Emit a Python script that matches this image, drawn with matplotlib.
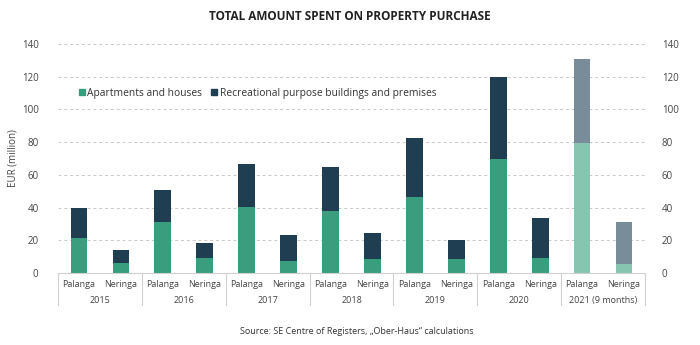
import matplotlib
matplotlib.use("Agg")
import matplotlib.pyplot as plt
from matplotlib.patches import Patch
from matplotlib.transforms import blended_transform_factory
import numpy as np

plt.rcParams["font.family"] = ["Open Sans", "DejaVu Sans"]

years = ["2015", "2016", "2017", "2018", "2019", "2020", "2021 (9 months)"]
towns = ["Palanga", "Neringa"]
apartments = [21.7, 5.9, 31.4, 9.1, 40.4, 7.5, 38.1, 8.5, 46.7, 8.3, 69.8, 9.1, 79.5, 5.7]
totals = [39.5, 13.8, 50.5, 18.3, 66.9, 23.5, 64.5, 24.5, 82.4, 20.1, 119.7, 33.5, 131.0, 31.4]
recreational = [t - a for t, a in zip(totals, apartments)]

GREEN, DARK = "#3a9e7e", "#1f3e52"
GREEN_L, DARK_L = "#88c5b0", "#788d99"
TXT = "#444444"

fig = plt.figure(figsize=(7, 3.45), dpi=100)
ax = fig.add_axes([58 / 700, 1 - 273 / 345, 587 / 700, 229 / 345])

n = len(apartments)
x = np.arange(n)
last = [i >= n - 2 for i in x]
gcol = [GREEN_L if l else GREEN for l in last]
dcol = [DARK_L if l else DARK for l in last]
ax.bar(x, apartments, width=0.4, color=gcol, zorder=2)
ax.bar(x, recreational, bottom=apartments, width=0.4, color=dcol, zorder=2)

ax.set_xlim(-0.5, n - 0.5)
ax.set_ylim(0, 140)
ax.set_yticks(range(0, 141, 20))
ax.grid(axis="y", color="#c8c8c8", linestyle=(0, (3, 3)), linewidth=0.7, zorder=0)
ax.tick_params(axis="y", length=0, labelsize=7, labelcolor=TXT, pad=14)
for s in ["top", "right", "left"]:
    ax.spines[s].set_visible(False)
ax.spines["bottom"].set_color("#d0d0d0")
ax.spines["bottom"].set_linewidth(0.8)

ax.set_xticks(x)
ax.set_xticklabels(towns * len(years))
ax.tick_params(axis="x", length=0, labelsize=6.5, labelcolor=TXT, pad=5)

ax2 = ax.twinx()
ax2.set_ylim(0, 140)
ax2.set_yticks(range(0, 141, 20))
ax2.tick_params(axis="y", length=0, labelsize=7, labelcolor=TXT, pad=12)
for s in ax2.spines.values():
    s.set_visible(False)

trans = blended_transform_factory(ax.transData, ax.transAxes)
for k, yr in enumerate(years):
    ax.text(2 * k + 0.5, -0.12, yr, transform=trans, ha="center", va="center",
            fontsize=6.5, color=TXT)
for b in np.arange(-0.5, n, 2):
    ax.plot([b, b], [0, -0.14], transform=trans, color="#d0d0d0", lw=0.8, clip_on=False)

ax.set_ylabel("EUR (million)", fontsize=7, color=TXT, labelpad=2)

handles = [Patch(color=GREEN, label="Apartments and houses"),
           Patch(color=DARK, label="Recreational purpose buildings and premises")]
ax.legend(handles=handles, loc="center left", bbox_to_anchor=(0.02, 0.785), ncol=2,
          frameon=False, fontsize=7.4, handlelength=0.55, handleheight=0.55,
          handletextpad=0.25, columnspacing=0.9, labelcolor="#333333")

fig.text(0.5, 1 - 17 / 345, "TOTAL AMOUNT SPENT ON PROPERTY PURCHASE", ha="center",
         va="center", fontsize=8.5, fontweight="bold", color="#222222")
fig.text(357 / 700, 1 - 332 / 345, "Source: SE Centre of Registers, \u201eOber-Haus\u201c calculations",
         ha="center", va="center", fontsize=6.5, color="#333333")

fig.savefig("out.png", dpi=100)
